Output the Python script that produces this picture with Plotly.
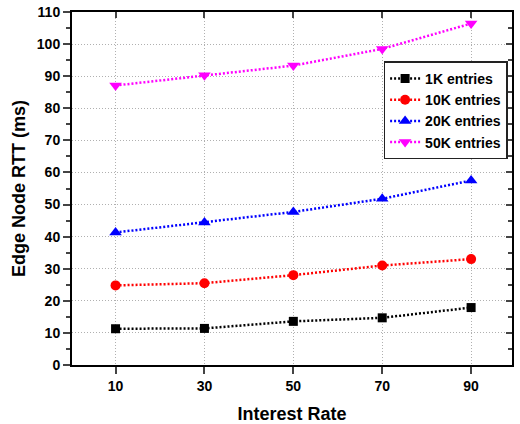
import plotly.graph_objects as go

rates = [10, 30, 50, 70, 90]
rtt_1k = [11.3, 11.4, 13.6, 14.7, 17.9]
rtt_10k = [24.8, 25.5, 28.0, 31.0, 33.0]
rtt_20k = [41.3, 44.4, 47.7, 51.8, 57.5]
rtt_50k = [87.1, 90.3, 93.3, 98.5, 106.4]
series_names = ["1K entries", "10K entries", "20K entries", "50K entries"]
x_ticks = [10, 30, 50, 70, 90]

font_family = "Liberation Sans, Arial, sans-serif"

styles = [
    ("black", "square", 9),
    ("red", "circle", 10),
    ("blue", "triangle-up", 11),
    ("magenta", "triangle-down", 11),
]

fig = go.Figure()
for name, vals, (color, sym, sz) in zip(series_names, [rtt_1k, rtt_10k, rtt_20k, rtt_50k], styles):
    fig.add_trace(go.Scatter(
        x=rates, y=vals, name=name, mode="lines+markers",
        line=dict(color=color, width=2.5, dash="2px,2px"),
        marker=dict(color=color, symbol=sym, size=sz),
    ))

xr = [0.2, 99.2]
yr = [0, 110]

grid = dict(showgrid=True, gridcolor="#b0b0b0", griddash="1px,2px", gridwidth=1)

fig.update_layout(
    width=520, height=424,
    margin=dict(l=72, r=8, t=12, b=59),
    paper_bgcolor="white", plot_bgcolor="white",
    font=dict(family=font_family, size=13, color="black"),
    showlegend=True,
    legend=dict(
        x=0.99, y=0.86, xanchor="right", yanchor="top",
        bordercolor="#222", borderwidth=1.5, bgcolor="white",
        font=dict(family=font_family, size=14, color="black", weight="bold"),
        itemwidth=30, tracegroupgap=0,
    ),
    xaxis=dict(
        range=xr, tickvals=x_ticks, ticks="outside", ticklen=7, tickwidth=2,
        showline=True, linewidth=2, linecolor="black",
        zeroline=False, automargin=False, **grid,
        tickfont=dict(family=font_family, size=14, weight="bold"),
        title=dict(text="Interest Rate", font=dict(family=font_family, size=18, weight="bold"), standoff=16),
    ),
    yaxis=dict(
        range=yr, dtick=10, ticks="outside", ticklen=7, tickwidth=2,
        showline=True, linewidth=2, linecolor="black",
        zeroline=False, automargin=False, **grid,
        minor=dict(dtick=5, ticks="outside", ticklen=4, tickwidth=2, showgrid=False),
        tickfont=dict(family=font_family, size=14, weight="bold"),
        title=dict(text="Edge Node RTT (ms)", font=dict(family=font_family, size=18, weight="bold"), standoff=7),
    ),
    xaxis2=dict(
        range=xr, tickvals=x_ticks, overlaying="x", side="top", anchor="y",
        ticks="inside", ticklen=6, tickwidth=2, showticklabels=False, automargin=False,
        showline=True, linewidth=2, linecolor="black", showgrid=False, zeroline=False,
    ),
    yaxis2=dict(
        range=yr, dtick=10, overlaying="y", side="right", anchor="x",
        ticks="inside", ticklen=6, tickwidth=2, showticklabels=False, automargin=False,
        showline=True, linewidth=2, linecolor="black", showgrid=False, zeroline=False,
        minor=dict(dtick=5, ticks="inside", ticklen=4, tickwidth=2, showgrid=False),
    ),
)

fig.add_trace(go.Scatter(x=[], y=[], xaxis="x2", yaxis="y2", showlegend=False, hoverinfo="skip"))

fig.write_html("out.html")
